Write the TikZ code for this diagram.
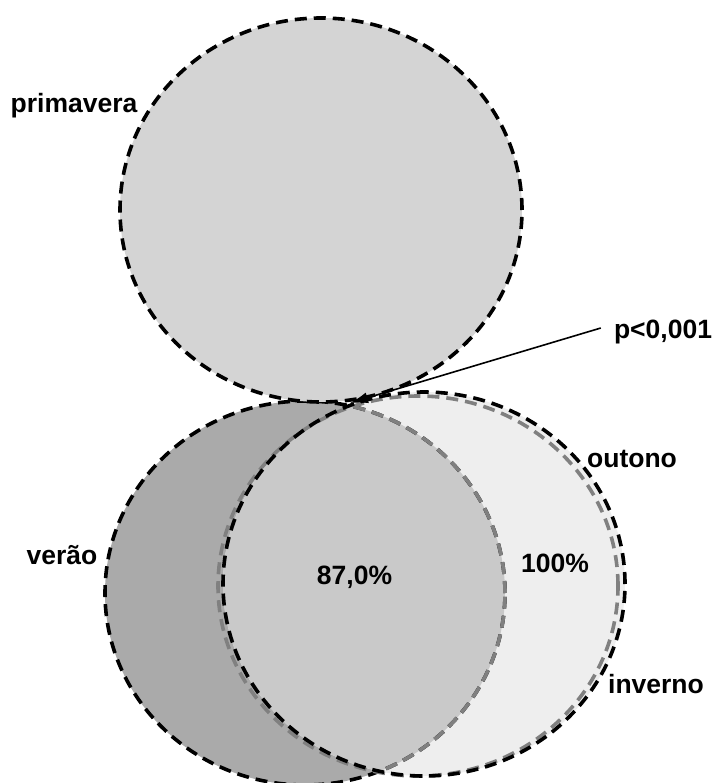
\documentclass[tikz,border=0pt]{standalone}
\usepackage{fontspec}
\setmainfont{Liberation Sans}
\usetikzlibrary{shapes.geometric,arrows.meta}
\definecolor{primfill}{gray}{0.83}
\definecolor{verfill}{gray}{0.665}
\definecolor{midfill}{gray}{0.79}
\definecolor{outfill}{gray}{0.933}
\definecolor{lgray}{gray}{0.5}
\begin{document}
\begin{tikzpicture}[x=1pt,y=-1pt,
  vennline/.style={line width=3.6pt, dash pattern=on 12pt off 7pt},
  lbl/.style={font=\fontsize{26.5}{30}\selectfont\bfseries, inner sep=0pt}]
\useasboundingbox (0,0) rectangle (714,783);
% fills
\fill[verfill] (305,593) ellipse [x radius=200pt, y radius=192pt];
\fill[outfill] (424,584) ellipse [x radius=201pt, y radius=192pt];
\begin{scope}
  \clip (305,593) ellipse [x radius=200pt, y radius=192pt];
  \fill[midfill] (424,584) ellipse [x radius=201pt, y radius=192pt];
\end{scope}
% outlines
\draw[vennline, black] (305,593) ellipse [x radius=200pt, y radius=192pt];
\draw[vennline, lgray] (418,586) ellipse [x radius=200pt, y radius=190pt];
\draw[vennline, black] (424,584) ellipse [x radius=201pt, y radius=192pt];
\begin{scope}
  \clip (424,584) ellipse [x radius=199pt, y radius=190pt];
  \draw[vennline, lgray] (305,593) ellipse [x radius=200pt, y radius=192pt];
\end{scope}
% primavera
\fill[primfill] (321,210) ellipse [x radius=201pt, y radius=192pt];
\draw[vennline, black] (321,210) ellipse [x radius=201pt, y radius=192pt];
% labels
\node[lbl] (prim) at (74,106) {primavera};
\node[lbl] (ver) at (62,555) {verão};
\node[lbl] (out) at (632,459) {outono};
\node[lbl] (inv) at (656,684) {inverno};
\node[lbl] (pct) at (354.5,577) {87,0\%};
\node[lbl] (hund) at (555,563) {100\%};
\node[lbl] (p) at (663,332) {p<0,001};
\coordinate (touch) at (350,403);
\draw[line width=1.6pt, -{Latex[length=18pt,width=11pt]}] ([xshift=-13pt,yshift=4pt]p.west) -- (touch);
\end{tikzpicture}
\end{document}
